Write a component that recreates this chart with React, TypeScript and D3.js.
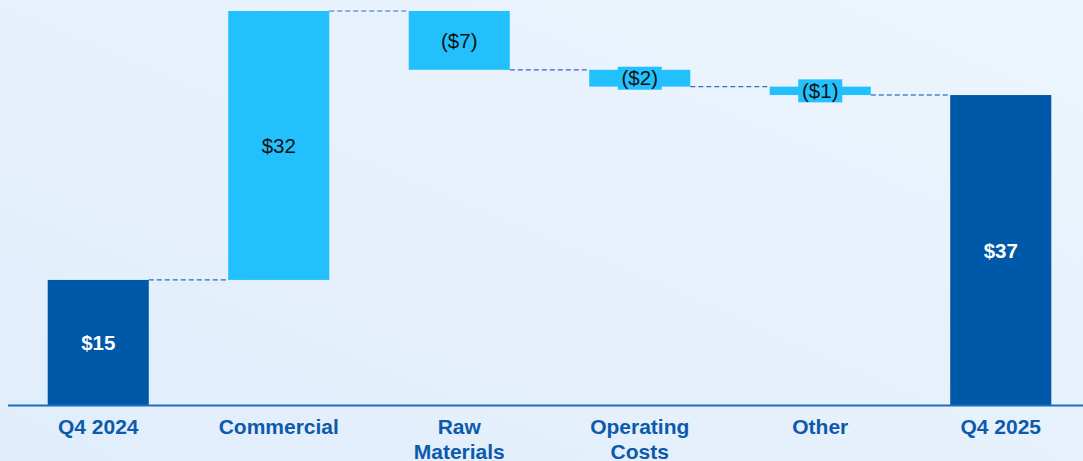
import React from "react";
import * as d3 from "d3";

const categories = ["Q4 2024", "Commercial", "Raw Materials", "Operating Costs", "Other", "Q4 2025"];
const categoryLines = [["Q4 2024"], ["Commercial"], ["Raw", "Materials"], ["Operating", "Costs"], ["Other"], ["Q4 2025"]];
const values = [15, 32, -7, -2, -1, 37];
const kinds = ["total", "delta", "delta", "delta", "delta", "total"];
const valueLabels = ["$15", "$32", "($7)", "($2)", "($1)", "$37"];

const W = 1083;
const H = 461;

export default function App() {
  const x = d3.scaleBand<string>().domain(categories).range([8, 1091]).paddingInner(0.44).paddingOuter(0.22);
  const y = d3.scaleLinear().domain([0, 47]).range([406, 11]);

  let run = 0;
  const bars = categories.map((c, i) => {
    let y0: number, y1: number;
    if (kinds[i] === "total") {
      y0 = 0;
      y1 = values[i];
      run = values[i];
    } else {
      y0 = run;
      y1 = run + values[i];
      run = y1;
    }
    return { c, i, lo: Math.min(y0, y1), hi: Math.max(y0, y1), end: y1 };
  });

  const bw = x.bandwidth();
  const fontFam = "Arial, 'Liberation Sans', sans-serif";

  return (
    <svg width={W} height={H} style={{ position: "absolute", left: 0, top: 0, display: "block" }}>
      <defs>
        <linearGradient id="bg" x1="0" y1="1" x2="1" y2="0">
          <stop offset="0%" stopColor="#e0edfb" />
          <stop offset="100%" stopColor="#edf5fd" />
        </linearGradient>
      </defs>
      <rect x={0} y={0} width={W} height={H} fill="url(#bg)" />
      {bars.slice(0, -1).map((b, i) => {
        const next = bars[i + 1];
        const yy = y(b.end);
        const last = i === bars.length - 2;
        return (
          <line
            key={"c" + i}
            x1={(x(b.c) as number) + bw}
            x2={x(next.c) as number}
            y1={yy}
            y2={yy}
            stroke={last ? "#6fa3d6" : "#2f6db5"}
            strokeWidth={last ? 2 : 1.2}
            strokeDasharray="5,3"
          />
        );
      })}
      {bars.map((b) => {
        const isTotal = kinds[b.i] === "total";
        const bx = x(b.c) as number;
        const top = y(b.hi);
        const bot = y(b.lo);
        const cy = (top + bot) / 2;
        const small = bot - top < 26;
        return (
          <g key={b.c}>
            <rect x={bx} y={top} width={bw} height={bot - top} fill={isTotal ? "#0058a8" : "#22c1fe"} />
            {small && <rect x={bx + bw / 2 - 22} y={cy - 11.5} width={44} height={23} fill="#22c1fe" />}
            <text
              x={bx + bw / 2}
              y={cy}
              dy="0.35em"
              textAnchor="middle"
              fontFamily={fontFam}
              fontSize={20.5}
              fontWeight={isTotal ? "bold" : "normal"}
              fill={isTotal ? "#ffffff" : "#111111"}
            >
              {valueLabels[b.i]}
            </text>
          </g>
        );
      })}
      <line x1={8} x2={W} y1={405.5} y2={405.5} stroke="#1e6cbf" strokeWidth={2} />
      {categories.map((c, i) => (
        <text
          key={"l" + c}
          x={(x(c) as number) + bw / 2}
          y={434}
          textAnchor="middle"
          fontFamily={fontFam}
          fontSize={21}
          fontWeight="bold"
          fill="#0d5aad"
        >
          {categoryLines[i].map((ln, k) => (
            <tspan key={k} x={(x(c) as number) + bw / 2} dy={k === 0 ? 0 : 25}>
              {ln}
            </tspan>
          ))}
        </text>
      ))}
    </svg>
  );
}
